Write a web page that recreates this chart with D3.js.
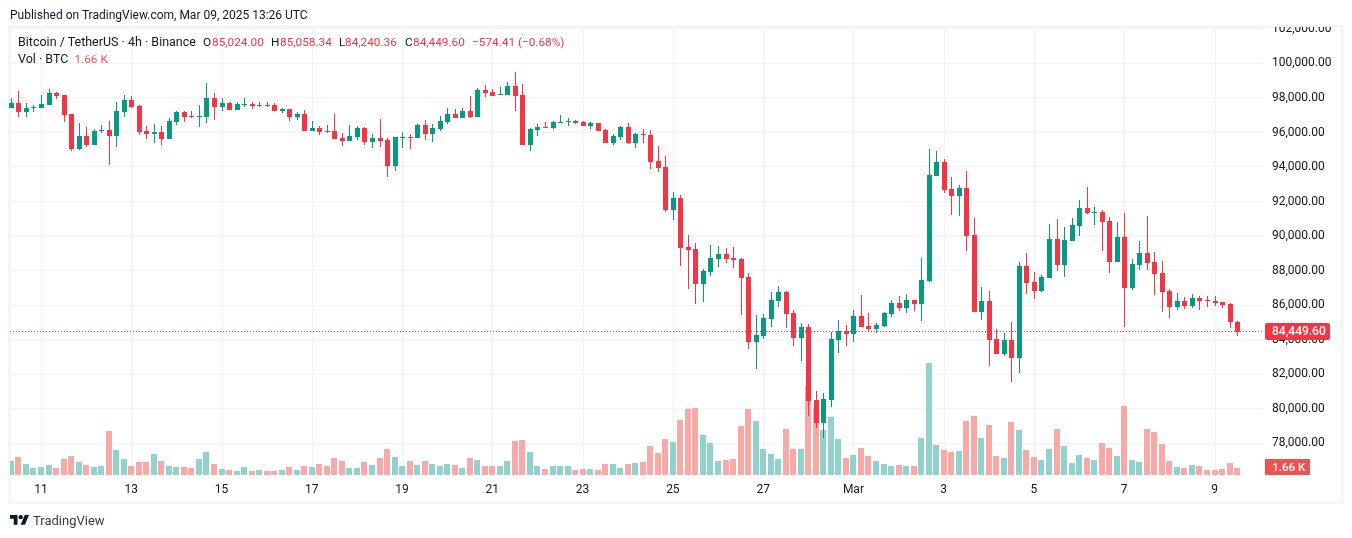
<!DOCTYPE html>
<html>
<head>
<meta charset="utf-8">
<script src="https://cdn.jsdelivr.net/npm/d3@7"></script>
<style>
  html, body { margin: 0; padding: 0; background: #fff; }
  svg { display: block; }
  text { font-family: Roboto, "Noto Sans", sans-serif; }
</style>
</head>
<body>
<svg id="chart" width="1352" height="538"></svg>
<script>
// 4h candles, Feb 10 08:00 to Mar 09 12:00
const opens = [
  97430,97680,97200,97450,97430,97610,98280,98170,97070,95060,
  95790,95290,96060,96120,95810,97200,97880,97530,96080,95930,
  96020,95640,96620,97180,96950,96910,96890,97990,97470,97700,
  97300,97590,97650,97530,97590,97590,97240,97360,96890,97070,
  96080,96260,96080,96080,95680,95500,95740,96260,95450,95680,
  95560,94060,95680,95740,95680,96430,95910,96200,96600,97070,
  96840,97240,96890,98460,98340,98170,98170,98690,98170,95270,
  96140,96310,96260,96550,96600,96660,96600,96370,96550,96140,
  95390,95740,96310,95390,95910,95850,94350,94000,91510,92200,
  89370,89250,87220,87920,88670,88960,88730,88670,87630,83850,
  84200,85180,86220,86740,85530,84080,84720,80490,79160,80490,
  83960,84490,84310,85350,84770,84600,84770,85470,86110,85820,
  86280,86050,87380,93460,94270,92710,92300,92760,90040,85590,
  86220,84020,83150,83990,82950,88280,87350,86830,87580,89840,
  88330,89720,90590,91630,91340,91400,90880,88510,89950,87000,
  88330,89030,88510,87870,86830,85900,86250,85960,86420,86310,
  86250,86190,86080,85024
];
const highs = [
  97990,98400,97680,97570,98150,98510,98340,98170,97070,96550,
  96310,96180,96430,96660,97760,98170,98110,97570,96370,96490,
  96370,96820,97240,97240,97240,97590,98840,98280,97990,97760,
  97740,97990,97760,97760,97760,97700,97410,97360,97180,97300,
  96660,96370,96430,97070,95970,96430,96370,96310,95910,96780,
  95680,95740,96020,95910,96490,96720,96490,96950,97410,97360,
  97410,98110,98570,98750,98510,98630,98920,99500,98800,96260,
  96490,96600,96660,97010,96840,96720,96660,96600,96550,96200,
  95910,96370,96550,95970,96200,96140,95210,94640,92550,92380,
  90060,89600,88090,89480,89420,89310,89370,88730,87860,85410,
  85470,86740,87090,86800,85700,84950,84890,81010,80900,84430,
  85120,84830,85700,86570,85530,84950,85590,86280,86510,86630,
  86280,88710,95020,94910,94440,93400,92940,93750,91030,87030,
  86800,84600,84370,85030,88510,89030,87930,87750,90710,91000,
  90530,91050,92100,92850,91690,91520,91110,90820,91340,88680,
  89720,91170,89090,88560,86940,86710,86480,86650,86540,86540,
  86540,86190,86130,85058.34
];
const lows = [
  97430,96910,96910,97200,97430,97610,97950,96620,94940,95000,
  95180,95290,95970,94130,95180,96910,97430,95870,95640,95410,
  95290,95640,96430,96600,96830,96310,96560,96720,97240,97300,
  97300,97470,97360,97470,97470,97240,97120,96660,96720,96080,
  96080,95850,95970,95620,95210,95500,95560,95270,95100,95160,
  93420,93770,95100,95040,95680,95560,95450,96080,96490,96840,
  96840,96840,96890,98050,98110,98170,98170,97240,95270,94920,
  95790,96260,96200,96550,96370,96490,96370,96200,96080,95390,
  95270,95560,95330,95100,95390,93880,93710,91390,90930,88270,
  86930,86070,86180,87690,88210,88440,88150,85430,83460,82290,
  84020,84720,85880,84660,83620,82750,79560,78870,78290,80090,
  83210,83620,83850,84720,84430,84370,84720,85300,85640,85530,
  85640,85060,87320,93460,92480,91200,91140,89120,85590,85120,
  82460,83150,83040,81560,82080,86650,86360,86770,87580,87990,
  87640,89720,90010,91290,90650,89140,87870,88510,84740,86890,
  88040,88040,86600,85610,85260,85730,85790,85840,85730,85900,
  85960,85840,84690,84240.36
];
const closes = [
  97680,97180,97410,97490,97650,98280,98110,97010,95060,95790,
  95290,96080,96120,95810,97240,97880,97470,96040,95930,96000,
  95640,96660,97180,96890,96890,96950,97990,97470,97700,97300,
  97650,97650,97530,97590,97530,97240,97360,96890,97070,96080,
  96260,96020,96020,95620,95500,95790,96260,95450,95680,95500,
  94060,95740,95740,95680,96430,95910,96260,96660,97070,96840,
  97240,96890,98460,98280,98110,98220,98690,98110,95270,96200,
  96310,96260,96600,96600,96660,96550,96370,96550,96080,95390,
  95790,96310,95390,95910,95850,94290,93940,91510,92200,89310,
  89190,87220,87980,88730,88960,88670,88610,87570,83870,84250,
  85240,86280,86740,85470,84080,84720,80430,79160,80550,84020,
  84490,84310,85350,84720,84600,84830,85530,86110,85820,86280,
  86050,87440,93520,94270,92650,92300,92760,89990,85590,86220,
  83960,83150,83960,82950,88280,87290,86830,87640,89840,88330,
  89780,90650,91630,91340,91400,90820,88510,89950,87000,88390,
  89030,88450,87810,86770,85900,86250,85960,86420,86250,86250,
  86130,86020,85030,84449.6
];
// volume in thousands of BTC
const volumes = [
  3.32,4.27,2.61,1.66,1.90,2.37,1.66,3.79,4.50,3.08,
  2.37,1.90,2.13,10.43,5.93,3.79,2.13,3.08,3.08,4.98,
  3.32,2.13,1.90,1.90,1.66,3.79,5.45,2.61,1.42,1.19,
  0.95,1.90,0.95,1.19,0.95,0.95,1.19,1.90,1.19,2.13,
  1.90,2.61,2.13,4.03,3.32,1.66,1.66,3.08,2.37,4.03,
  6.16,4.27,2.13,3.32,2.37,3.32,2.61,2.13,2.61,2.37,
  1.66,4.03,3.56,2.13,2.13,2.13,3.32,8.06,8.30,5.45,
  2.13,1.42,2.13,2.13,2.13,1.19,1.42,1.42,1.19,2.61,
  2.61,1.66,2.61,2.84,3.08,6.87,5.21,8.53,7.82,13.04,
  15.64,15.88,9.48,7.58,3.32,3.56,3.79,11.61,15.64,12.80,
  6.16,4.98,3.79,10.90,6.16,6.16,21.09,15.80,10.67,13.75,
  8.53,4.03,4.74,6.40,4.50,3.32,2.61,2.13,2.37,2.13,
  2.13,8.77,26.54,7.11,5.93,5.45,5.69,12.80,13.98,8.77,
  11.85,4.50,4.03,12.56,10.67,5.93,4.27,3.56,6.16,10.90,
  6.87,2.84,4.74,4.03,3.56,7.58,6.40,4.50,16.35,3.56,
  3.08,10.90,10.19,7.35,3.32,1.90,1.66,2.37,2.13,1.19,
  1.19,1.42,2.84,1.66
];
const priceTicks = [102000,100000,98000,96000,94000,92000,90000,88000,86000,84000,82000,80000,78000];
const dayLabels = ['11','13','15','17','19','21','23','25','27','Mar','3','5','7','9'];
const dayIndex = [4,16,28,40,52,64,76,88,100,112,124,136,148,160];
const legendParts = [
  ['O',203,false],['85,024.00',212,true],['H',271,false],['85,058.34',280,true],
  ['L',339,false],['84,240.36',345,true],['C',405,false],['84,449.60',413,true],
  ['\u2212574.41 (\u22120.68%)',472,true]
];

const upColor = '#089981', downColor = '#f23645';
const upVol = '#92d2cc', downVol = '#f7a9a7';
const gridColor = '#f2f3f5', frameColor = '#f2f2f2', textColor = '#131722';
const lastPrice = closes[closes.length - 1], lastVol = volumes[volumes.length - 1];

const svg = d3.select('#chart');
const frame = { left: 10, right: 1342, top: 27, bottom: 502, axisX: 1263, baseY: 475 };

const x = d3.scaleLinear().domain([4, 160]).range([41, 1214.5]);
const y = d3.scaleLinear().domain([100000, 78000]).range([63.3, 443.3]);
const yVol = d3.scaleLinear().domain([0, d3.max(volumes)]).range([frame.baseY, 363]);

svg.append('defs').append('clipPath').attr('id', 'plot')
  .append('rect').attr('x', frame.left).attr('y', frame.top)
  .attr('width', frame.right - frame.left).attr('height', frame.bottom - frame.top);

// frame
svg.append('rect')
  .attr('x', frame.left - 0.5).attr('y', frame.top - 0.5)
  .attr('width', frame.right - frame.left + 1).attr('height', frame.bottom - frame.top + 1)
  .attr('fill', 'none').attr('stroke', frameColor).attr('stroke-width', 2);

// grid
svg.append('g').selectAll('line').data(priceTicks).enter().append('line')
  .attr('x1', frame.left).attr('x2', frame.axisX)
  .attr('y1', d => Math.floor(y(d)) + 0.5).attr('y2', d => Math.floor(y(d)) + 0.5)
  .attr('stroke', gridColor);
svg.append('g').selectAll('line').data(dayIndex).enter().append('line')
  .attr('x1', d => Math.round(x(d)) + 0.5).attr('x2', d => Math.round(x(d)) + 0.5)
  .attr('y1', frame.top).attr('y2', frame.baseY + 2)
  .attr('stroke', gridColor);

// volume bars
svg.append('g').attr('clip-path', 'url(#plot)').selectAll('rect').data(volumes).enter().append('rect')
  .attr('x', (d, i) => Math.round(x(i)) - 3)
  .attr('width', 6)
  .attr('y', d => Math.round(yVol(d)))
  .attr('height', d => frame.baseY - Math.round(yVol(d)))
  .attr('fill', (d, i) => closes[i] >= opens[i] ? upVol : downVol)
  .style('mix-blend-mode', 'multiply');

// candles
const candles = svg.append('g').selectAll('g').data(opens).enter().append('g')
  .attr('fill', (d, i) => closes[i] >= opens[i] ? upColor : downColor);
candles.append('rect')
  .attr('x', (d, i) => Math.round(x(i)))
  .attr('width', 1)
  .attr('y', (d, i) => Math.round(y(highs[i])))
  .attr('height', (d, i) => Math.max(1, Math.round(y(lows[i])) - Math.round(y(highs[i]))));
candles.append('rect')
  .attr('x', (d, i) => Math.round(x(i)) - 2)
  .attr('width', 5)
  .attr('y', (d, i) => Math.round(y(Math.max(opens[i], closes[i]))))
  .attr('height', (d, i) => Math.max(1, Math.round(y(Math.min(opens[i], closes[i]))) - Math.round(y(Math.max(opens[i], closes[i])))));

// last price line
svg.append('line')
  .attr('x1', frame.left).attr('x2', frame.axisX)
  .attr('y1', Math.floor(y(lastPrice)) + 0.5).attr('y2', Math.floor(y(lastPrice)) + 0.5)
  .attr('stroke', downColor).attr('stroke-dasharray', '1 2');

// price axis
svg.append('g').attr('clip-path', 'url(#plot)').selectAll('text').data(priceTicks).enter().append('text')
  .attr('x', 1272).attr('y', d => y(d))
  .attr('dominant-baseline', 'middle')
  .attr('font-size', 12).attr('fill', textColor)
  .text(d => d3.format(',.2f')(d));

// last price and volume labels
svg.append('rect').attr('x', 1265).attr('y', 323).attr('width', 65).attr('height', 17).attr('rx', 2).attr('fill', downColor);
svg.append('text').attr('x', 1272).attr('y', 331.5).attr('dominant-baseline', 'middle')
  .attr('font-size', 12).attr('font-weight', 500).attr('fill', '#fff').text(d3.format(',.2f')(lastPrice));
svg.append('rect').attr('x', 1265).attr('y', 459).attr('width', 45).attr('height', 16).attr('fill', '#ef5350');
svg.append('text').attr('x', 1272).attr('y', 467.5).attr('dominant-baseline', 'middle')
  .attr('font-size', 11.7).attr('font-weight', 500).attr('fill', '#fff').text(lastVol.toFixed(2) + ' K');

// time axis
svg.append('g').selectAll('text').data(dayLabels).enter().append('text')
  .attr('x', (d, i) => x(dayIndex[i])).attr('y', 493)
  .attr('text-anchor', 'middle').attr('font-size', 12).attr('fill', textColor)
  .text(d => d);

// header and legend
svg.append('text').attr('x', 10).attr('y', 19).attr('font-size', 12).attr('fill', textColor)
  .text('Published on TradingView.com, Mar 09, 2025 13:26 UTC');
svg.append('text').attr('x', 18).attr('y', 46).attr('font-size', 12.5).attr('fill', textColor)
  .text('Bitcoin / TetherUS \u00b7 4h \u00b7 Binance');
svg.append('g').selectAll('text').data(legendParts).enter().append('text')
  .attr('x', d => d[1]).attr('y', 46).attr('font-size', 11.8)
  .attr('fill', d => d[2] ? downColor : textColor)
  .text(d => d[0]);
svg.append('text').attr('x', 18).attr('y', 63).attr('font-size', 12.5).attr('fill', textColor).text('Vol \u00b7 BTC');
svg.append('text').attr('x', 74.5).attr('y', 63).attr('font-size', 11.8).attr('fill', '#ef5350').text(lastVol.toFixed(2) + ' K');

// footer logo
const logo = svg.append('g').attr('transform', 'translate(10,511.3) scale(0.535)').attr('fill', '#131722');
logo.append('path').attr('d', 'M14 25H7V14H0V7h14v18zM28 25h-8l7.5-18h8L28 25z');
logo.append('circle').attr('cx', 20).attr('cy', 11).attr('r', 4);
svg.append('text').attr('x', 33).attr('y', 525).attr('font-size', 13).attr('fill', '#363a45').text('TradingView');
</script>
</body>
</html>
